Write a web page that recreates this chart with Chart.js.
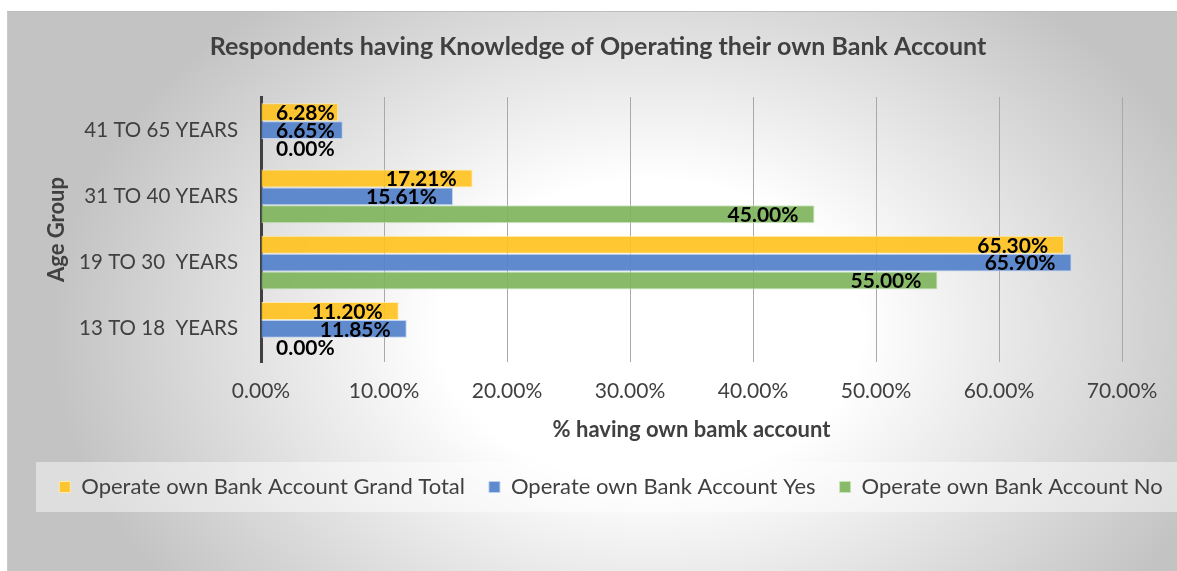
<!DOCTYPE html>
<html>
<head>
<meta charset="utf-8">
<title>Bank Account Knowledge by Age Group</title>
<script src="https://cdn.jsdelivr.net/npm/chart.js@4.4.1/dist/chart.umd.min.js"></script>
<style>
  html, body { margin: 0; padding: 0; background: #fff; }
  #frame {
    position: absolute;
    left: 7px;
    top: 11px;
    width: 1170px;
    height: 560px;
    background: radial-gradient(ellipse 600px 430px at 643px 320px, #ffffff 0%, #ffffff 35%, #c3c3c3 100%);
    box-shadow: inset 0 1px 0 #bdbdbd, inset 1px 0 0 #cacaca;
  }
  canvas { display: block; }
</style>
</head>
<body>
<div id="frame"><canvas id="accountChart" width="1170" height="560"></canvas></div>
<script>
const ageGroups = ["41 TO 65 YEARS", "31 TO 40 YEARS", "19 TO 30  YEARS", "13 TO 18  YEARS"];
const grandTotal = [6.28, 17.21, 65.30, 11.20];
const accountYes = [6.65, 15.61, 65.90, 11.85];
const accountNo = [0.00, 45.00, 55.00, 0.00];
const xTicks = [0, 10, 20, 30, 40, 50, 60, 70];

const textGrey = "#404040";
const fontFamily = "Lato, 'Open Sans', sans-serif";
const legendPad = 24;

// value labels sit just inside the bar end, pushed right when the bar is too short
const barLabels = {
  id: "barLabels",
  afterDatasetsDraw(chart) {
    const ctx = chart.ctx;
    const left = chart.chartArea.left;
    ctx.save();
    ctx.font = "bold 21px " + fontFamily;
    ctx.fillStyle = "#000";
    ctx.textAlign = "right";
    ctx.textBaseline = "middle";
    chart.data.datasets.forEach((ds, i) => {
      chart.getDatasetMeta(i).data.forEach((bar, j) => {
        const text = ds.data[j].toFixed(2) + "%";
        const w = ctx.measureText(text).width;
        const x = Math.max(bar.x - 16, left + 15 + w);
        ctx.fillText(text, x, bar.y + 1);
      });
    });
    ctx.restore();
  }
};

// nudge title and legend a little right of the canvas centre
const nudgeBlocks = {
  id: "nudgeBlocks",
  afterLayout(chart) {
    const shift = (box, dx) => { if (box) { box.left += dx; box.right += dx; } };
    shift(chart.titleBlock, 6);
    shift(chart.legend, 19);
  }
};

// pale band behind the legend row
const legendBand = {
  id: "legendBand",
  beforeDraw(chart) {
    const lg = chart.legend;
    if (!lg) return;
    const ctx = chart.ctx;
    const mid = lg.top + legendPad + 11;
    ctx.save();
    ctx.fillStyle = "rgba(255,255,255,0.45)";
    ctx.fillRect(29, mid - 25, chart.width - 29, 50);
    ctx.restore();
  }
};

new Chart(document.getElementById("accountChart"), {
  type: "bar",
  data: {
    labels: ageGroups,
    datasets: [
      {
        label: "Operate own Bank Account Grand Total",
        data: grandTotal,
        backgroundColor: "rgba(255,194,32,0.92)",
        borderColor: "rgba(255,236,180,0.9)",
        borderWidth: 1
      },
      {
        label: "Operate own Bank Account Yes",
        data: accountYes,
        backgroundColor: "rgba(86,131,203,0.94)",
        borderColor: "rgba(190,208,240,0.9)",
        borderWidth: 1
      },
      {
        label: "Operate own Bank Account No",
        data: accountNo,
        backgroundColor: "rgba(126,180,92,0.92)",
        borderColor: "rgba(200,228,185,0.9)",
        borderWidth: 1
      }
    ]
  },
  options: {
    indexAxis: "y",
    responsive: false,
    animation: false,
    categoryPercentage: 0.81,
    barPercentage: 1.0,
    layout: { padding: { left: 0, right: 0, top: 0, bottom: 63 } },
    plugins: {
      title: {
        display: true,
        text: "Respondents having Knowledge of Operating their own Bank Account",
        color: textGrey,
        font: { family: fontFamily, size: 25, weight: "bold" },
        padding: { top: 21, bottom: 35 }
      },
      legend: {
        position: "bottom",
        labels: {
          color: textGrey,
          font: { family: fontFamily, size: 22 },
          boxWidth: 11,
          boxHeight: 11,
          padding: legendPad
        }
      },
      tooltip: { enabled: false }
    },
    scales: {
      x: {
        min: 0,
        max: 70,
        afterBuildTicks(scale) {
          scale.ticks = xTicks.map(v => ({ value: v }));
        },
        afterFit(scale) {
          scale.height = 90;
          scale.paddingRight = 55;
        },
        grid: { color: "#a9a9a9", lineWidth: 1, drawTicks: false },
        border: { display: false },
        ticks: {
          color: textGrey,
          font: { family: fontFamily, size: 21 },
          padding: 17,
          callback: v => v.toFixed(2) + "%"
        },
        title: {
          display: true,
          text: "% having own bamk account",
          color: textGrey,
          font: { family: fontFamily, size: 22, weight: "bold" },
          padding: { top: 0, bottom: 9 }
        }
      },
      y: {
        afterFit(scale) { scale.width = 254; },
        grid: { display: false, drawTicks: false },
        border: { display: true, color: textGrey, width: 3 },
        ticks: {
          color: textGrey,
          font: { family: fontFamily, size: 20.5 },
          padding: 23
        },
        title: {
          display: true,
          text: "Age Group",
          color: textGrey,
          font: { family: fontFamily, size: 22, weight: "bold" },
          padding: { top: 37, bottom: 0 }
        }
      }
    }
  },
  plugins: [nudgeBlocks, legendBand, barLabels]
});
</script>
</body>
</html>
